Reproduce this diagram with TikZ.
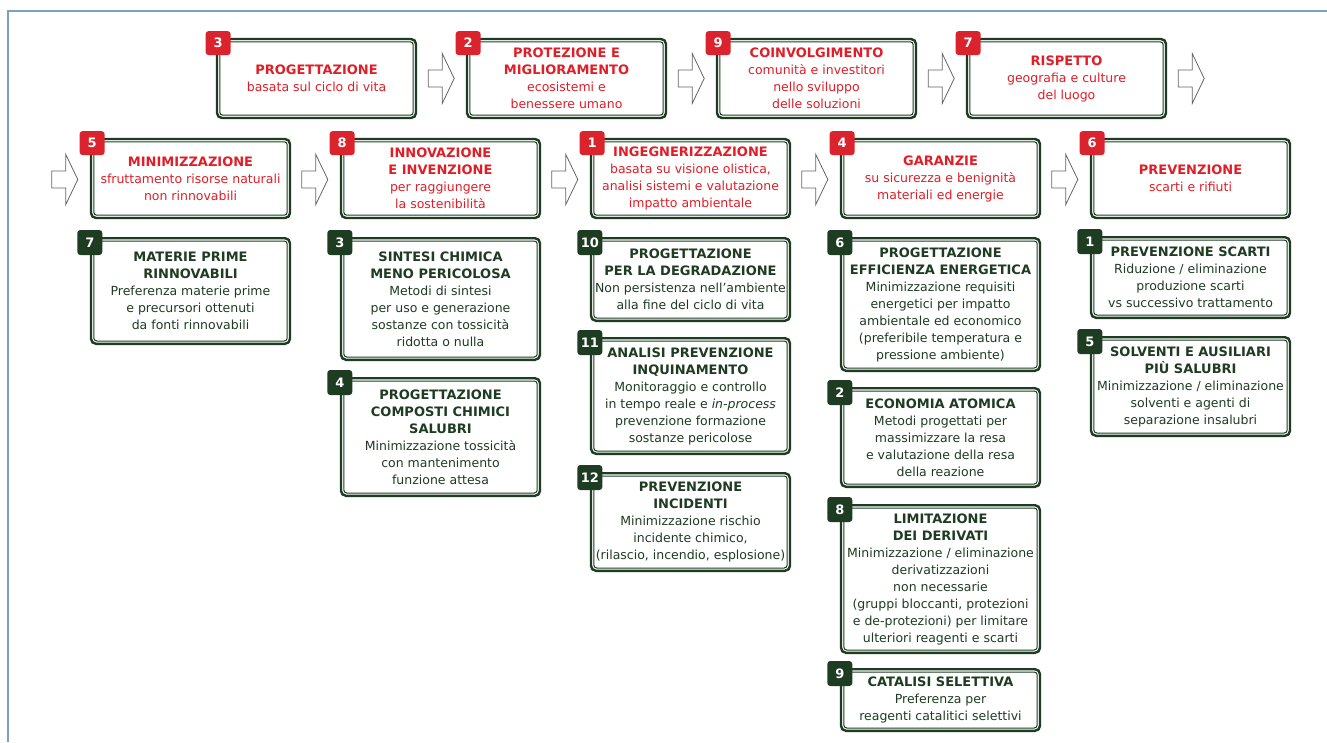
\documentclass[tikz,border=0pt]{standalone}
\usepackage{fontspec}
\setmainfont{DejaVu Sans}
\definecolor{dkgreen}{RGB}{30,60,34}
\definecolor{bred}{RGB}{218,35,45}
\definecolor{tred}{RGB}{225,30,40}
\definecolor{frameblue}{RGB}{125,160,190}
\definecolor{arrgray}{RGB}{100,100,100}
\newcommand\hdr[1]{{\fontsize{13}{17}\selectfont\bfseries #1}}
\tikzset{
  gbox/.style={draw=dkgreen, line width=2.4pt, rounded corners=5pt, fill=white,
    minimum width=199pt, inner sep=0pt, align=center,
    font=\fontsize{12.5}{17}\selectfont},
  topbox/.style={gbox, text=tred},
  subbox/.style={gbox, text=dkgreen},
  innerline/.style={draw=dkgreen, line width=1pt, rounded corners=3pt},
  badge/.style={rounded corners=3pt, minimum width=25pt, minimum height=24pt,
    inner sep=0pt, text=white, font=\fontsize{13}{15}\selectfont\bfseries},
  rbadge/.style={badge, fill=bred},
  gbadge/.style={badge, fill=dkgreen, minimum height=25pt},
  arrowline/.style={draw=arrgray, fill=white, line width=0.8pt, line join=miter},
  pics/blockarrow/.style={code={
    \draw[arrowline] (0,-8.5) -- (14,-8.5) -- (14,-25) -- (26,0) -- (14,25) -- (14,8.5) -- (0,8.5) -- cycle;}}
}
\begin{document}
\begin{tikzpicture}[x=1pt,y=-1pt]
\useasboundingbox (0,0) rectangle (1327,742);
\draw[frameblue, line width=2pt] (7.5,742) -- (7.5,10.5) -- (1327,10.5);

% ---------- top row ----------
\node[topbox, minimum height=79pt] (t3) at (316.5,78.5)
  {\hdr{PROGETTAZIONE}\\basata sul ciclo di vita};
\node[topbox, minimum height=79pt] (t2) at (566.5,78.5)
  {\hdr{PROTEZIONE E}\\\hdr{MIGLIORAMENTO}\\ecosistemi e\\benessere umano};
\node[topbox, minimum height=79pt] (t9) at (816.5,78.5)
  {\hdr{COINVOLGIMENTO}\\comunità e investitori\\nello sviluppo\\delle soluzioni};
\node[topbox, minimum height=79pt] (t7) at (1066.5,78.5)
  {\hdr{RISPETTO}\\geografia e culture\\del luogo};

% ---------- second row ----------
\node[topbox, minimum height=79pt] (m5) at (190.5,178.5)
  {\hdr{MINIMIZZAZIONE}\\sfruttamento risorse naturali\\non rinnovabili};
\node[topbox, minimum height=79pt] (m8) at (440.5,178.5)
  {\hdr{INNOVAZIONE}\\\hdr{E INVENZIONE}\\per raggiungere\\la sostenibilità};
\node[topbox, minimum height=79pt] (m1) at (690.5,178.5)
  {\hdr{INGEGNERIZZAZIONE}\\basata su visione olistica,\\analisi sistemi e valutazione\\impatto ambientale};
\node[topbox, minimum height=79pt] (m4) at (940.5,178.5)
  {\hdr{GARANZIE}\\su sicurezza e benignità\\materiali ed energie};
\node[topbox, minimum height=79pt] (m6) at (1190.5,178.5)
  {\hdr{PREVENZIONE}\\scarti e rifiuti};

% ---------- sub boxes ----------
\node[subbox, minimum height=105.6pt] (s7) at (190.5,291)
  {\hdr{MATERIE PRIME}\\\hdr{RINNOVABILI}\\Preferenza materie prime\\e precursori ottenuti\\da fonti rinnovabili};
\node[subbox, minimum height=121.6pt] (s3) at (440.5,299)
  {\hdr{SINTESI CHIMICA}\\\hdr{MENO PERICOLOSA}\\Metodi di sintesi\\per uso e generazione\\sostanze con tossicità\\ridotta o nulla};
\node[subbox, minimum height=117.6pt] (s4) at (440.5,437)
  {\hdr{PROGETTAZIONE}\\\hdr{COMPOSTI CHIMICI}\\\hdr{SALUBRI}\\Minimizzazione tossicità\\con mantenimento\\funzione attesa};
\node[subbox, minimum height=82.6pt] (s10) at (690.5,279.5)
  {\hdr{PROGETTAZIONE}\\\hdr{PER LA DEGRADAZIONE}\\Non persistenza nell’ambiente\\alla fine del ciclo di vita};
\node[subbox, minimum height=115.6pt] (s11) at (690.5,396)
  {\hdr{ANALISI PREVENZIONE}\\\hdr{INQUINAMENTO}\\Monitoraggio e controllo\\in tempo reale e \textit{in-process}\\prevenzione formazione\\sostanze pericolose};
\node[subbox, minimum height=97.6pt] (s12) at (690.5,522)
  {\hdr{PREVENZIONE}\\\hdr{INCIDENTI}\\Minimizzazione rischio\\incidente chimico,\\(rilascio, incendio, esplosione)};
\node[subbox, minimum height=132.6pt] (s6) at (940.5,304.5)
  {\hdr{PROGETTAZIONE}\\\hdr{EFFICIENZA ENERGETICA}\\Minimizzazione requisiti\\energetici per impatto\\ambientale ed economico\\(preferibile temperatura e\\pressione ambiente)};
\node[subbox, minimum height=98.6pt] (s2) at (940.5,437.5)
  {\hdr{ECONOMIA ATOMICA}\\Metodi progettati per\\massimizzare la resa\\e valutazione della resa\\della reazione};
\node[subbox, minimum height=147.6pt] (s8) at (940.5,579)
  {\hdr{LIMITAZIONE}\\\hdr{DEI DERIVATI}\\Minimizzazione / eliminazione\\derivatizzazioni\\non necessarie\\(gruppi bloccanti, protezioni\\e de-protezioni) per limitare\\ulteriori reagenti e scarti};
\node[subbox, minimum height=61.6pt] (s9) at (940.5,700)
  {\hdr{CATALISI SELETTIVA}\\Preferenza per\\reagenti catalitici selettivi};
\node[subbox, minimum height=80.6pt] (s1) at (1190.5,277.5)
  {\hdr{PREVENZIONE SCARTI}\\Riduzione / eliminazione\\produzione scarti\\vs successivo trattamento};
\node[subbox, minimum height=98.6pt] (s5) at (1190.5,386.5)
  {\hdr{SOLVENTI E AUSILIARI}\\\hdr{PIÙ SALUBRI}\\Minimizzazione / eliminazione\\solventi e agenti di\\separazione insalubri};

% ---------- inner lines of the double borders ----------
\foreach \b in {t3,t2,t9,t7,m5,m8,m1,m4,m6,s7,s3,s4,s10,s11,s12,s6,s2,s8,s9,s1,s5}
  \draw[innerline] ([shift={(4,4)}]\b.north west) rectangle ([shift={(-4,-4)}]\b.south east);

% ---------- badges ----------
\node[rbadge] (bt3) at ([shift={(2.3,5.3)}]t3.north west) {3};
\node[rbadge] (bt2) at ([shift={(2.3,5.3)}]t2.north west) {2};
\node[rbadge] (bt9) at ([shift={(2.3,5.3)}]t9.north west) {9};
\node[rbadge] (bt7) at ([shift={(2.3,5.3)}]t7.north west) {7};
\node[rbadge] (bm5) at ([shift={(2.3,5.3)}]m5.north west) {5};
\node[rbadge] (bm8) at ([shift={(2.3,5.3)}]m8.north west) {8};
\node[rbadge] (bm1) at ([shift={(2.3,5.3)}]m1.north west) {1};
\node[rbadge] (bm4) at ([shift={(2.3,5.3)}]m4.north west) {4};
\node[rbadge] (bm6) at ([shift={(2.3,5.3)}]m6.north west) {6};
\node[gbadge] (bs7) at ([shift={(0,5.5)}]s7.north west) {7};
\node[gbadge] (bs3) at ([shift={(0,5.5)}]s3.north west) {3};
\node[gbadge] (bs4) at ([shift={(0,5.5)}]s4.north west) {4};
\node[gbadge] (bs10) at ([shift={(0,5.5)}]s10.north west) {10};
\node[gbadge] (bs11) at ([shift={(0,5.5)}]s11.north west) {11};
\node[gbadge] (bs12) at ([shift={(0,5.5)}]s12.north west) {12};
\node[gbadge] (bs6) at ([shift={(0,5.5)}]s6.north west) {6};
\node[gbadge] (bs2) at ([shift={(0,5.5)}]s2.north west) {2};
\node[gbadge] (bs8) at ([shift={(0,5.5)}]s8.north west) {8};
\node[gbadge] (bs9) at ([shift={(0,5.5)}]s9.north west) {9};
\node[gbadge] (bs1) at ([shift={(0,5.5)}]s1.north west) {1};
\node[gbadge] (bs5) at ([shift={(0,5.5)}]s5.north west) {5};

% ---------- block arrows ----------
\pic at ([xshift=11]t3.east) {blockarrow};
\pic at ([xshift=11]t2.east) {blockarrow};
\pic at ([xshift=11]t9.east) {blockarrow};
\pic at ([xshift=11]t7.east) {blockarrow};
\pic at ([xshift=-38,yshift=-1]m5.west) {blockarrow};
\pic at ([xshift=-38,yshift=-1]m8.west) {blockarrow};
\pic at ([xshift=-38,yshift=-1]m1.west) {blockarrow};
\pic at ([xshift=-38,yshift=-1]m4.west) {blockarrow};
\pic at ([xshift=-38,yshift=-1]m6.west) {blockarrow};
\end{tikzpicture}
\end{document}
